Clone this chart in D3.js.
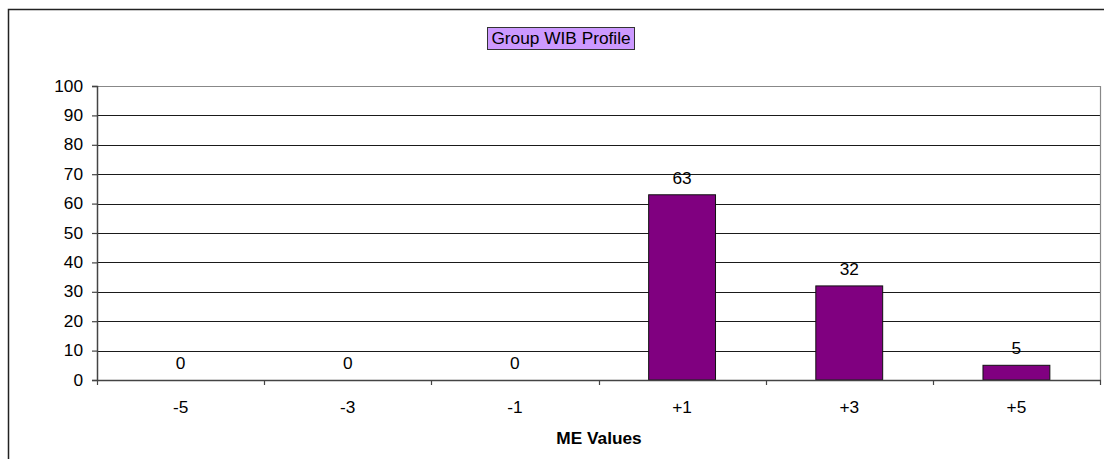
<!DOCTYPE html>
<html>
<head>
<meta charset="utf-8">
<script src="https://cdn.jsdelivr.net/npm/d3@7"></script>
<style>
  html, body { margin: 0; padding: 0; background: #fff; }
  svg { display: block; }
  text { font-family: "Liberation Sans", Arial, sans-serif; }
</style>
</head>
<body>
<svg id="chart" width="1104" height="459"></svg>
<script>
// ME value categories and group percentages
const categories = ["-5", "-3", "-1", "+1", "+3", "+5"];
const values = [0, 0, 0, 63, 32, 5];
const yTicks = [0, 10, 20, 30, 40, 50, 60, 70, 80, 90, 100];
const chartTitle = "Group WIB Profile";
const xAxisTitle = "ME Values";

const svg = d3.select("#chart");
const W = 1104, H = 459;
const plot = { left: 97, right: 1100, top: 86, bottom: 380 };
const FONT = 16, SX = 1.08;

// text helper: slightly wide Arial-style lettering
function label(g, x, y, str, opts = {}) {
  return g.append("text")
    .attr("transform", `translate(${x},${y}) scale(${SX},1)`)
    .attr("text-anchor", opts.anchor || "middle")
    .attr("font-size", opts.size || FONT)
    .attr("font-weight", opts.weight || "normal")
    .attr("fill", "#000")
    .text(str);
}

// outer chart frame (runs off the right and bottom edges)
svg.append("path")
  .attr("d", `M8.5,${H + 2}V9.5H${W + 2}`)
  .attr("fill", "none")
  .attr("stroke", "#222")
  .attr("stroke-width", 1.5);

const x = d3.scaleBand()
  .domain(categories)
  .range([plot.left, plot.right])
  .paddingInner(0.6)
  .paddingOuter(0.3);

const xBand = d3.scaleBand()
  .domain(categories)
  .range([plot.left, plot.right]);

const y = d3.scaleLinear()
  .domain([0, 100])
  .range([plot.bottom, plot.top]);

// gridlines
svg.append("g")
  .selectAll("line")
  .data(yTicks.filter(t => t > 0 && t < 100))
  .join("line")
  .attr("x1", plot.left)
  .attr("x2", plot.right)
  .attr("y1", d => Math.round(y(d)) + 0.5)
  .attr("y2", d => Math.round(y(d)) + 0.5)
  .attr("stroke", "#1a1a1a")
  .attr("stroke-width", 1);

// plot area border (top and right)
svg.append("path")
  .attr("d", `M${plot.left},${plot.top + 0.5}H${plot.right + 0.5}V${plot.bottom}`)
  .attr("fill", "none")
  .attr("stroke", "#888")
  .attr("stroke-width", 1.2);

// bars
svg.append("g")
  .selectAll("rect")
  .data(values)
  .join("rect")
  .attr("x", (d, i) => x(categories[i]))
  .attr("width", x.bandwidth())
  .attr("y", d => y(d))
  .attr("height", d => y(0) - y(d))
  .attr("fill", "#800080")
  .attr("stroke", "#111")
  .attr("stroke-width", 1);

// value labels
const valG = svg.append("g");
values.forEach((v, i) => {
  label(valG, xBand(categories[i]) + xBand.bandwidth() / 2, y(v) - 11, v);
});

// y axis
const yAxis = d3.axisLeft(y)
  .tickValues(yTicks)
  .tickSize(5)
  .tickFormat(d3.format("d"));
const gy = svg.append("g")
  .attr("transform", `translate(${plot.left},0)`)
  .call(yAxis);
gy.select(".domain").attr("stroke", "#444").attr("stroke-width", 1.5);
gy.selectAll(".tick line").attr("stroke", "#444").attr("stroke-width", 1.2);
gy.selectAll(".tick text")
  .attr("x", null)
  .attr("transform", `translate(-14,0) scale(${SX},1)`)
  .attr("font-size", FONT)
  .attr("fill", "#000")
  .attr("font-family", "Liberation Sans, Arial, sans-serif");

// x axis: ticks sit between categories
const gx = svg.append("g")
  .attr("transform", `translate(0,${plot.bottom})`);
gx.append("line")
  .attr("x1", plot.left)
  .attr("x2", plot.right + 1)
  .attr("y1", 0.5)
  .attr("y2", 0.5)
  .attr("stroke", "#444")
  .attr("stroke-width", 1.5);
const boundaries = categories.map(c => xBand(c)).concat([plot.right]);
gx.selectAll(".tk")
  .data(boundaries)
  .join("line")
  .attr("class", "tk")
  .attr("x1", d => Math.round(d) + 0.5)
  .attr("x2", d => Math.round(d) + 0.5)
  .attr("y1", 0)
  .attr("y2", 5)
  .attr("stroke", "#444")
  .attr("stroke-width", 1.2);
categories.forEach(c => {
  label(gx, xBand(c) + xBand.bandwidth() / 2, 33, c);
});

// axis title
label(svg, (plot.left + plot.right) / 2 + 0.5, 444, xAxisTitle, { weight: "bold" });

// chart title in a shaded box
const titleG = svg.append("g");
titleG.append("rect")
  .attr("x", 487.5)
  .attr("y", 27.5)
  .attr("width", 147)
  .attr("height", 22)
  .attr("fill", "#CC99FF")
  .attr("stroke", "#333")
  .attr("stroke-width", 1);
label(titleG, 561, 44, chartTitle);
</script>
</body>
</html>
